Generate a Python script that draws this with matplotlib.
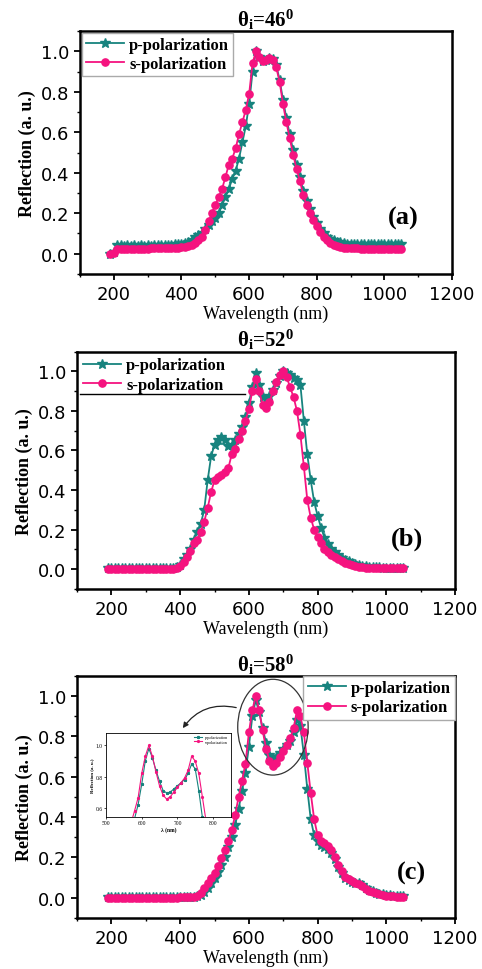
import numpy as np
import matplotlib
matplotlib.use('Agg')
import matplotlib.pyplot as plt
from matplotlib.patches import Ellipse
from matplotlib.ticker import MultipleLocator, AutoMinorLocator

plt.rcParams['font.family'] = 'DejaVu Sans'
plt.rcParams['mathtext.fontset'] = 'custom'
plt.rcParams['mathtext.rm'] = 'Liberation Serif'
plt.rcParams['mathtext.it'] = 'Liberation Serif:italic'
plt.rcParams['mathtext.bf'] = 'Liberation Serif:bold'

TEAL = '#17837e'
PINK = '#f5137f'

wl = np.arange(190, 1060, 10)

# panel (a), theta = 46
p_46 = [0.0, 0.01, 0.045, 0.042, 0.04, 0.042, 0.04, 0.042, 0.04, 0.042,
        0.04, 0.042, 0.04, 0.042, 0.042, 0.043, 0.043, 0.044, 0.045, 0.046,
        0.048, 0.05, 0.055, 0.06, 0.07, 0.085, 0.095, 0.1, 0.12, 0.14,
        0.16, 0.175, 0.2, 0.24, 0.28, 0.32, 0.37, 0.41, 0.47, 0.55,
        0.63, 0.74, 0.9, 1.0, 0.97, 0.95, 0.955, 0.965, 0.96, 0.93,
        0.86, 0.76, 0.67, 0.59, 0.51, 0.44, 0.38, 0.31, 0.26, 0.22,
        0.18, 0.15, 0.12, 0.1, 0.085, 0.075, 0.066, 0.06, 0.056, 0.052,
        0.05, 0.049, 0.048, 0.048, 0.048, 0.047, 0.047, 0.047, 0.047, 0.047,
        0.047, 0.047, 0.047, 0.047, 0.047, 0.047, 0.047]
s_46 = [0.0, 0.005, 0.025, 0.025, 0.025, 0.025, 0.025, 0.025, 0.025, 0.025,
        0.025, 0.025, 0.026, 0.026, 0.026, 0.027, 0.027, 0.027, 0.028, 0.028,
        0.029, 0.031, 0.034, 0.038, 0.045, 0.055, 0.068, 0.085, 0.115, 0.16,
        0.2, 0.24, 0.28, 0.32, 0.38, 0.44, 0.47, 0.52, 0.59, 0.65,
        0.71, 0.79, 0.94, 1.0, 0.97, 0.95, 0.955, 0.965, 0.955, 0.92,
        0.85, 0.74, 0.65, 0.57, 0.49, 0.42, 0.36, 0.29, 0.24, 0.2,
        0.165, 0.135, 0.105, 0.085, 0.068, 0.055, 0.045, 0.038, 0.033, 0.03,
        0.028, 0.027, 0.026, 0.026, 0.025, 0.025, 0.025, 0.025, 0.025, 0.025,
        0.025, 0.025, 0.025, 0.025, 0.025, 0.025, 0.025]

# panel (b), theta = 52
p_52 = [0.005, 0.005, 0.005, 0.005, 0.005, 0.005, 0.005, 0.005, 0.005, 0.005,
        0.005, 0.005, 0.005, 0.005, 0.005, 0.005, 0.005, 0.005, 0.005, 0.008,
        0.012, 0.02, 0.05, 0.07, 0.1, 0.15, 0.19, 0.23, 0.3, 0.45,
        0.57, 0.63, 0.655, 0.668, 0.655, 0.625, 0.626, 0.655, 0.685, 0.72,
        0.77, 0.84, 0.92, 0.99, 0.93, 0.87, 0.86, 0.875, 0.905, 0.94,
        0.975, 1.0, 0.99, 0.98, 0.965, 0.955, 0.93, 0.75, 0.58, 0.45,
        0.34, 0.27, 0.21, 0.16, 0.125, 0.1, 0.085, 0.07, 0.058, 0.048,
        0.04, 0.033, 0.027, 0.022, 0.018, 0.015, 0.013, 0.011, 0.01, 0.009,
        0.008, 0.008, 0.008, 0.008, 0.008, 0.008, 0.008]
s_52 = [0.0, 0.0, 0.0, 0.0, 0.0, 0.0, 0.0, 0.0, 0.0, 0.0,
        0.0, 0.0, 0.0, 0.0, 0.0, 0.001, 0.001, 0.002, 0.002, 0.003,
        0.006, 0.015, 0.035, 0.06, 0.09, 0.13, 0.15, 0.19, 0.24, 0.31,
        0.39, 0.45, 0.465, 0.475, 0.49, 0.51, 0.58, 0.61, 0.66, 0.7,
        0.75, 0.81, 0.9, 0.96, 0.9, 0.83, 0.815, 0.845, 0.9, 0.945,
        0.98, 1.0, 0.97, 0.92, 0.87, 0.8, 0.68, 0.52, 0.35, 0.26,
        0.2, 0.165, 0.13, 0.1, 0.085, 0.07, 0.06, 0.05, 0.04, 0.032,
        0.025, 0.02, 0.016, 0.013, 0.01, 0.008, 0.007, 0.006, 0.005, 0.005,
        0.004, 0.004, 0.004, 0.004, 0.004, 0.004, 0.004]

# panel (c), theta = 58
p_58 = [0.005, 0.005, 0.005, 0.005, 0.005, 0.005, 0.005, 0.005, 0.005, 0.005,
        0.005, 0.005, 0.005, 0.005, 0.005, 0.005, 0.005, 0.005, 0.005, 0.005,
        0.005, 0.005, 0.005, 0.005, 0.005, 0.005, 0.008, 0.015, 0.03, 0.05,
        0.075, 0.1, 0.13, 0.165, 0.2, 0.25, 0.3, 0.36, 0.44, 0.53,
        0.62, 0.75, 0.9, 0.98, 0.92, 0.84, 0.77, 0.71, 0.695, 0.7,
        0.72, 0.74, 0.76, 0.78, 0.82, 0.88, 0.85, 0.71, 0.54, 0.39,
        0.31, 0.28, 0.26, 0.25, 0.24, 0.22, 0.19, 0.155, 0.125, 0.1,
        0.088, 0.08, 0.075, 0.072, 0.062, 0.05, 0.04, 0.032, 0.025, 0.02,
        0.017, 0.014, 0.012, 0.01, 0.009, 0.008, 0.007]
s_58 = [0.0, 0.0, 0.0, 0.0, 0.0, 0.0, 0.0, 0.0, 0.0, 0.0,
        0.0, 0.0, 0.0, 0.0, 0.0, 0.0, 0.0, 0.0, 0.0, 0.0,
        0.001, 0.002, 0.003, 0.004, 0.005, 0.005, 0.01, 0.025, 0.05, 0.075,
        0.1, 0.125, 0.16, 0.195, 0.235, 0.28, 0.335, 0.41, 0.5, 0.58,
        0.665, 0.82, 0.93, 1.0, 0.93, 0.83, 0.74, 0.68, 0.655, 0.67,
        0.7, 0.73, 0.76, 0.79, 0.84, 0.93, 0.9, 0.82, 0.67, 0.52,
        0.39, 0.31, 0.28, 0.27, 0.255, 0.235, 0.2, 0.165, 0.135, 0.105,
        0.092, 0.085, 0.075, 0.068, 0.058, 0.045, 0.036, 0.028, 0.022, 0.017,
        0.014, 0.011, 0.009, 0.007, 0.005, 0.004, 0.003]

angles = ['46', '52', '58']
tags = ['(a)', '(b)', '(c)']

fig = plt.figure(figsize=(4.82, 9.70), dpi=100)
ax_a = fig.add_axes([0.166, 0.7165, 0.772, 0.2505])
ax_b = fig.add_axes([0.160, 0.3918, 0.784, 0.2447])
ax_c = fig.add_axes([0.160, 0.0526, 0.784, 0.2495])

serif = 'Liberation Serif'
tag_pos = [(1055, 0.18), (1060, 0.155), (1074, 0.125)]

for ax, p, s, ang, tag, tp in zip([ax_a, ax_b, ax_c], [p_46, p_52, p_58],
                                  [s_46, s_52, s_58], angles, tags, tag_pos):
    ax.plot(wl, p, color=TEAL, marker='*', ms=7.5, lw=1.3, label='p-polarization')
    ax.plot(wl, s, color=PINK, marker='o', ms=5.2, lw=1.3, label='s-polarization')
    ax.set_xlim(100, 1200)
    ax.set_ylim(-0.1, 1.1)
    ax.xaxis.set_major_locator(MultipleLocator(200))
    ax.xaxis.set_minor_locator(AutoMinorLocator(2))
    ax.yaxis.set_major_locator(MultipleLocator(0.2))
    ax.yaxis.set_minor_locator(AutoMinorLocator(2))
    ax.set_yticks([0.0, 0.2, 0.4, 0.6, 0.8, 1.0])
    ax.tick_params(which='major', direction='out', length=4, width=1.3, labelsize=13, pad=4)
    ax.tick_params(which='minor', direction='out', length=2.5, width=1.0)
    for sp in ax.spines.values():
        sp.set_linewidth(1.8)
    ax.set_xlabel('Wavelength (nm)', family=serif, fontsize=13, labelpad=1)
    ax.set_ylabel('Reflection (a. u.)', family=serif, fontsize=13, fontweight='bold', labelpad=3)
    ax.set_title(r'$\mathbf{\theta_{i}}$=' + ang + r'$\mathbf{^{0}}$', family=serif,
                 fontweight='bold', fontsize=15, pad=4)
    ax.text(tp[0], tp[1], tag, family=serif, fontsize=19, fontweight='bold',
            ha='center', va='center')

leg_font = {'family': serif, 'weight': 'bold', 'size': 12}
la = ax_a.legend(loc='upper left', prop=leg_font, borderaxespad=0.1, fancybox=False,
                 edgecolor='#aaaaaa', framealpha=1, handlelength=2.3, handletextpad=0.3,
                 borderpad=0.25, labelspacing=0.2)
lb = ax_b.legend(loc='upper left', prop=leg_font, borderaxespad=0.1, frameon=False,
                 handlelength=2.3, handletextpad=0.3, borderpad=0.25, labelspacing=0.2)
ax_b.plot([0.008, 0.444], [0.822, 0.822], transform=ax_b.transAxes, color='k', lw=1.0)
lc = ax_c.legend(loc='upper right', prop=leg_font, borderaxespad=0.0, fancybox=False,
                 edgecolor='#aaaaaa', framealpha=1, handlelength=2.3, handletextpad=0.3,
                 borderpad=0.25, labelspacing=0.2)

# circled region and arrow to the inset
ax_c.add_patch(Ellipse((670, 0.846), 205, 0.475, fill=False, ec='#333333', lw=0.9, zorder=5))
ax_c.annotate('', xy=(403, 0.83), xytext=(571, 0.94),
              arrowprops=dict(arrowstyle='-|>', color='#222222', lw=0.9,
                              connectionstyle='arc3,rad=0.35', mutation_scale=8))

# inset
ins = fig.add_axes([0.220, 0.1567, 0.259, 0.0866])
ins.plot(wl, p_58, color=TEAL, marker='*', ms=2, lw=0.8, label='p-polarization')
ins.plot(wl, s_58, color=PINK, marker='o', ms=1.3, lw=0.8, label='s-polarization')
ins.set_xlim(500, 850)
ins.set_ylim(0.54, 1.08)
ins.set_xticks([500, 600, 700, 800])
ins.set_yticks([0.6, 0.8, 1.0])
ins.tick_params(direction='out', length=1.5, width=0.5, labelsize=4, pad=1)
for lab in ins.get_xticklabels() + ins.get_yticklabels():
    lab.set_family(serif)
for sp in ins.spines.values():
    sp.set_linewidth(0.6)
ins.set_xlabel('λ (nm)', family=serif, fontsize=4, fontweight='bold', labelpad=0.5)
ins.set_ylabel('Reflection (a. u.)', family=serif, fontsize=3.5, fontweight='bold', labelpad=1)
ins.legend(loc='upper right', prop={'family': serif, 'size': 3}, frameon=False,
           handlelength=2, borderaxespad=0.2, labelspacing=0.1)

fig.savefig('out.png', dpi=100)
